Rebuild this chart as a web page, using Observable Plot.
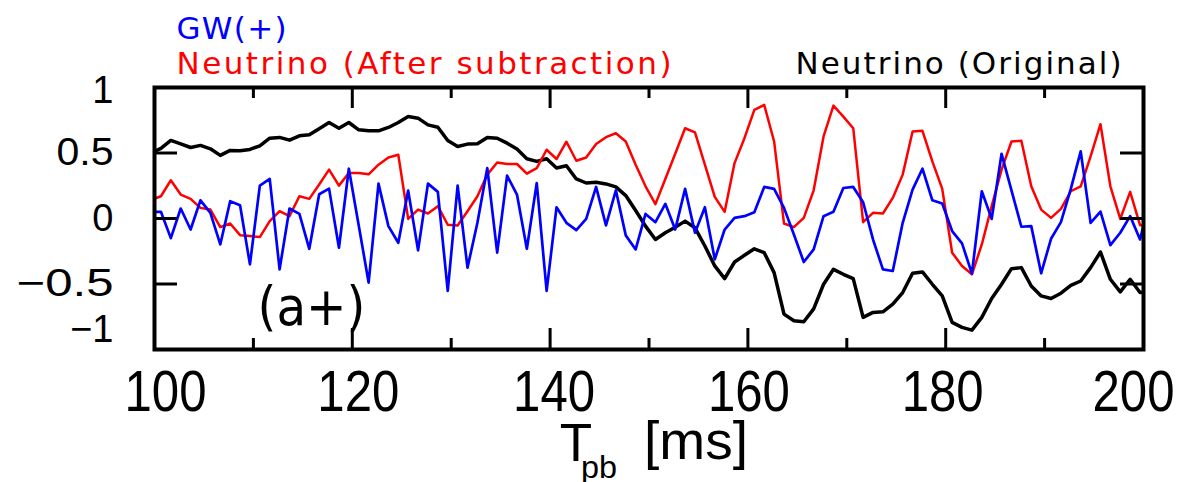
<!DOCTYPE html>
<html><head><meta charset="utf-8">
<script src="https://cdn.jsdelivr.net/npm/d3@7"></script>
<script src="https://cdn.jsdelivr.net/npm/@observablehq/plot@0.6"></script>
<style>body{margin:0;background:#fff}</style>
</head><body><div id="chart"></div>
<script>
// sample times (ms), one per millisecond
const times = d3.range(-1, 101).map(i => 100.65 + i);

const neutrinoOriginal = [0.50,0.535,0.596,0.570,0.542,0.558,0.532,0.482,0.520,0.517,0.527,0.555,0.613,0.619,0.598,0.631,0.639,0.685,0.733,0.689,0.733,0.677,0.669,0.669,0.695,0.733,0.778,0.766,0.715,0.697,0.596,0.550,0.568,0.570,0.619,0.613,0.575,0.530,0.456,0.436,0.456,0.385,0.403,0.302,0.271,0.276,0.264,0.241,0.175,0.061,-0.058,-0.160,-0.109,-0.066,-0.020,-0.071,-0.210,-0.362,-0.459,-0.332,-0.281,-0.231,-0.261,-0.413,-0.730,-0.781,-0.788,-0.690,-0.502,-0.388,-0.426,-0.459,-0.755,-0.717,-0.712,-0.654,-0.565,-0.418,-0.408,-0.502,-0.591,-0.793,-0.831,-0.852,-0.755,-0.611,-0.502,-0.383,-0.375,-0.515,-0.591,-0.611,-0.570,-0.510,-0.477,-0.375,-0.256,-0.464,-0.560,-0.464,-0.565,-0.56];

const neutrinoAfter = [0.142,0.170,0.292,0.183,0.150,0.081,0.068,-0.066,-0.038,-0.127,-0.134,-0.142,-0.020,0.056,0.018,0.170,0.150,0.259,0.373,0.251,0.347,0.347,0.337,0.411,0.466,0.487,-0.003,0.068,0.038,0.094,-0.048,-0.053,0.056,0.170,0.335,0.428,0.416,0.416,0.342,0.385,0.525,0.454,0.586,0.441,0.466,0.568,0.621,0.651,0.588,0.411,0.246,0.110,0.302,0.494,0.689,0.657,0.411,0.165,0.051,0.423,0.613,0.829,0.867,0.588,-0.038,-0.066,0.005,0.215,0.626,0.862,0.778,0.689,-0.028,0.043,0.038,0.157,0.335,0.664,0.669,0.436,0.226,-0.261,-0.362,-0.426,-0.198,0.094,0.373,0.588,0.593,0.246,0.068,0.005,0.074,0.208,0.246,0.474,0.720,0.246,-0.003,0.203,-0.051,-0.05];

const gwPlus = [0.05,0.051,-0.150,0.076,-0.084,0.139,0.043,-0.198,0.132,0.101,-0.350,0.251,0.302,-0.388,0.076,0.035,-0.231,0.185,0.228,-0.223,0.380,-0.053,-0.489,0.266,-0.058,-0.185,0.213,-0.243,0.266,0.203,-0.553,0.251,-0.375,-0.033,0.385,-0.261,0.327,0.183,-0.231,0.271,-0.553,0.086,-0.033,-0.089,-0.003,0.241,-0.053,0.215,-0.129,-0.236,0.035,-0.028,0.112,-0.084,0.226,-0.109,0.086,-0.312,-0.084,0.005,0.018,0.048,0.241,0.226,0.081,-0.122,-0.332,-0.236,0.018,0.051,0.233,0.241,0.124,-0.160,-0.388,-0.401,-0.033,0.221,0.380,0.139,0.114,-0.096,-0.190,-0.421,0.208,-0.003,0.494,0.215,-0.063,-0.058,-0.418,-0.155,-0.028,0.226,0.512,-0.033,0.053,-0.203,-0.109,0.018,-0.160,0.15];

const xMajor = [100,120,140,160,180,200];
const xMinor = [110,130,150,170,190];
const xTickLabels = ["100","120","140","160","180","200"];
const yMajor = [0.5,0,-0.5];
const yTickValues = [1,0.5,0,-0.5,-1];
const yTickLabels = ["1","0.5","0","\u22120.5","\u22121"];

// layout (pixels)
const W = 1179, H = 482, mL = 154, mR = 36, mT = 87, mB = 133;
const plotW = W - mL - mR, plotH = H - mT - mB;
const xLabelShift = [11, 6, 4, 1, -3, -10];
const yLabelShift = [3, 0, 0, 0, -20];

const rows = arr => times.map((t, i) => ({t, v: arr[i]}));
const legendFont = "DejaVu Sans, sans-serif";
const sans = "Liberation Sans, Arial, sans-serif";

const svg = Plot.plot({
  width: W, height: H,
  marginLeft: mL, marginRight: mR, marginTop: mT, marginBottom: mB,
  x: {domain: [100, 200], axis: null},
  y: {domain: [-1, 1], axis: null},
  style: {background: "#fff"},
  marks: [
    Plot.line(rows(neutrinoOriginal), {x: "t", y: "v", stroke: "#000", strokeWidth: 3.5, clip: true}),
    Plot.line(rows(neutrinoAfter), {x: "t", y: "v", stroke: "#ff0000", strokeWidth: 2.5, clip: true}),
    Plot.line(rows(gwPlus), {x: "t", y: "v", stroke: "#0000ff", strokeWidth: 2.7, clip: true}),
    // ticks (inward)
    Plot.tickX(xMajor, {x: d => d, insetBottom: plotH - 21, strokeWidth: 3}),
    Plot.tickX(xMajor, {x: d => d, insetTop: plotH - 21, strokeWidth: 3}),
    Plot.tickX(xMinor, {x: d => d, insetBottom: plotH - 11, strokeWidth: 3}),
    Plot.tickX(xMinor, {x: d => d, insetTop: plotH - 11, strokeWidth: 3}),
    Plot.tickY(yMajor, {y: d => d, insetRight: plotW - 23, strokeWidth: 3}),
    Plot.tickY(yMajor, {y: d => d, insetLeft: plotW - 23, strokeWidth: 3}),
    Plot.frame({stroke: "#000", strokeWidth: 4}),
    // x tick labels
    ...xMajor.map((v, i) => Plot.text([v], {x: d => d, text: [xTickLabels[i]], frameAnchor: "bottom",
      dy: 43, dx: xLabelShift[i], lineAnchor: "middle", fontSize: 57, fontFamily: sans, fill: "#000"})),
    // y tick labels
    ...yTickValues.map((v, i) => Plot.text([v], {y: d => d, text: [yTickLabels[i]], frameAnchor: "left",
      dx: -41, dy: yLabelShift[i], textAnchor: "end", lineAnchor: "middle", fontSize: 38, fontFamily: sans,
      fill: "#000"})),
    // x axis title  T_pb [ms]
    Plot.text(["T"], {frameAnchor: "bottom", dx: -73, dy: 95, lineAnchor: "middle", fontSize: 53, fontFamily: sans, fill: "#000"}),
    Plot.text(["pb"], {frameAnchor: "bottom", dx: -50, dy: 118, lineAnchor: "middle", fontSize: 32, fontFamily: sans, fill: "#000"}),
    Plot.text(["[ms]"], {frameAnchor: "bottom", dx: 47, dy: 93, lineAnchor: "middle", fontSize: 53, fontFamily: sans, fill: "#000"}),
    // panel label
    Plot.text(["(a+)"], {frameAnchor: "bottom-left", dx: 103, dy: -42, textAnchor: "start", lineAnchor: "middle",
      fontSize: 54, fontFamily: legendFont, fill: "#000"}),
    // legend
    Plot.text(["GW(+)"], {frameAnchor: "top-left", dx: 22, dy: -58, textAnchor: "start", lineAnchor: "middle",
      fontSize: 31, fontFamily: legendFont, fill: "#0000ff"}),
    Plot.text(["Neutrino (After subtraction)"], {frameAnchor: "top-left", dx: 22, dy: -23, textAnchor: "start", lineAnchor: "middle",
      fontSize: 31, fontFamily: legendFont, fill: "#ff0000"}),
    Plot.text(["Neutrino (Original)"], {frameAnchor: "top-right", dx: -22, dy: -23, textAnchor: "end", lineAnchor: "middle",
      fontSize: 31, fontFamily: legendFont, fill: "#000"})
  ]
});
// fit text widths to the reference by content
const widths = {
  "100": 82, "120": 82, "140": 82, "160": 82, "180": 82, "200": 82,
  "0.5": 57, "\u22120.5": 97,
  "pb": 36, "[ms]": 104, "(a+)": 108,
  "GW(+)": [110, "spacing"], "Neutrino (After subtraction)": [495, "spacing"], "Neutrino (Original)": [326, "spacing"]
};
svg.querySelectorAll("text").forEach(t => {
  const w = widths[t.textContent];
  if (w == null) return;
  const [len, adj] = Array.isArray(w) ? w : [w, "spacingAndGlyphs"];
  t.setAttribute("textLength", len);
  t.setAttribute("lengthAdjust", adj);
});
document.getElementById("chart").appendChild(svg);
</script>
</body></html>
